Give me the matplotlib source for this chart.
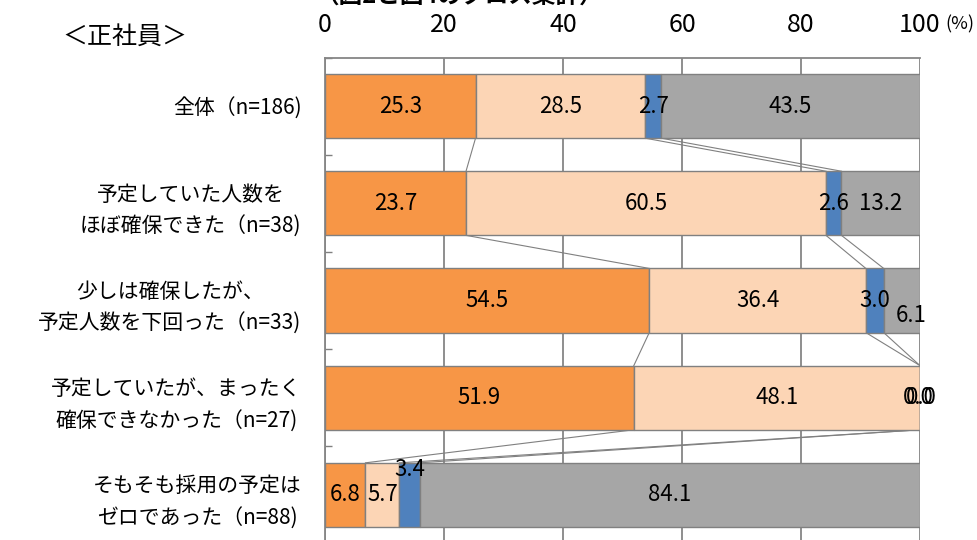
import matplotlib
matplotlib.use("Agg")
import matplotlib.pyplot as plt
import numpy as np

plt.rcParams['font.family'] = ['Noto Sans CJK JP', 'DejaVu Sans']

# data
categories = ['全体（n=186)',
              '予定していた人数を\nほぼ確保できた（n=38)',
              '少しは確保したが、\n予定人数を下回った（n=33)',
              '予定していたが、まったく\n確保できなかった（n=27)',
              'そもそも採用の予定は\nゼロであった（n=88)']
s1 = [25.3, 23.7, 54.5, 51.9, 6.8]
s2 = [28.5, 60.5, 36.4, 48.1, 5.7]
s3 = [2.7, 2.6, 3.0, 0.0, 3.4]
s4 = [43.5, 13.2, 6.1, 0.0, 84.1]
xticks = [0, 20, 40, 60, 80, 100]

series = [s1, s2, s3, s4]
colors = ['#F79646', '#FCD5B5', '#4F81BD', '#A6A6A6']
edge = '#808080'

# manual label nudges (row, series) -> (dx, dy) in points
nudge = {(2, 3): (7, -11), (4, 2): (0, 18), (3, 2): (-1, 0), (3, 3): (1, 0)}

fig = plt.figure(figsize=(9.78, 5.4), dpi=100)
ax = fig.add_axes([325/978, 0, (920-325)/978, (540-57.5)/540])

y = np.arange(len(categories))
h = 0.66
left = np.zeros(len(categories))
cums = []
for k, s in enumerate(series):
    s = np.array(s)
    ax.barh(y, s, left=left, height=h, color=colors[k], edgecolor=edge,
            linewidth=1, zorder=3)
    for i in range(len(y)):
        dx, dy = nudge.get((i, k), (0, 0))
        ax.annotate('%.1f' % s[i], (left[i] + s[i]/2, y[i]),
                    xytext=(dx, dy), textcoords='offset points',
                    ha='center', va='center', fontsize=16, zorder=5)
    left = left + s
    cums.append(left.copy())

# series lines between bars
for c in cums:
    for i in range(len(y) - 1):
        ax.plot([c[i], c[i+1]], [y[i] + h/2, y[i+1] - h/2],
                color=edge, lw=0.8, zorder=2)

ax.set_xlim(0, 100)
ax.set_ylim(4.464, -0.5)
ax.set_xticks(xticks)
ax.set_xticklabels([str(t) for t in xticks], fontsize=18)
ax.xaxis.tick_top()
ax.tick_params(axis='x', length=0, pad=14)
ax.grid(axis='x', color='#868686', lw=1.3, zorder=1)

ax.set_yticks(y)
ax.set_yticklabels(categories, fontsize=15, linespacing=1.6,
                   multialignment='center')
ax.set_yticks(np.append(y[:-1] + 0.5, -0.5), minor=True)
ax.tick_params(axis='y', which='major', length=0, pad=17)
ax.tick_params(axis='y', which='minor', direction='in', length=5,
               color=edge, width=1)

for sp in ['right', 'bottom']:
    ax.spines[sp].set_visible(False)
for sp in ['left', 'top']:
    ax.spines[sp].set_color('#868686')
    ax.spines[sp].set_linewidth(1.3)

fig.text(960/978, 1 - 24/540, '(%)', fontsize=13, ha='center', va='center')
fig.text(125/978, 1 - 37/540, '＜正社員＞', fontsize=18, ha='center', va='center')
fig.text(315/978, 1 - 8/540, '（図2と図4のクロス集計）', fontsize=17,
         fontweight='bold', ha='left', va='bottom')

fig.savefig('out.png', dpi=100)
